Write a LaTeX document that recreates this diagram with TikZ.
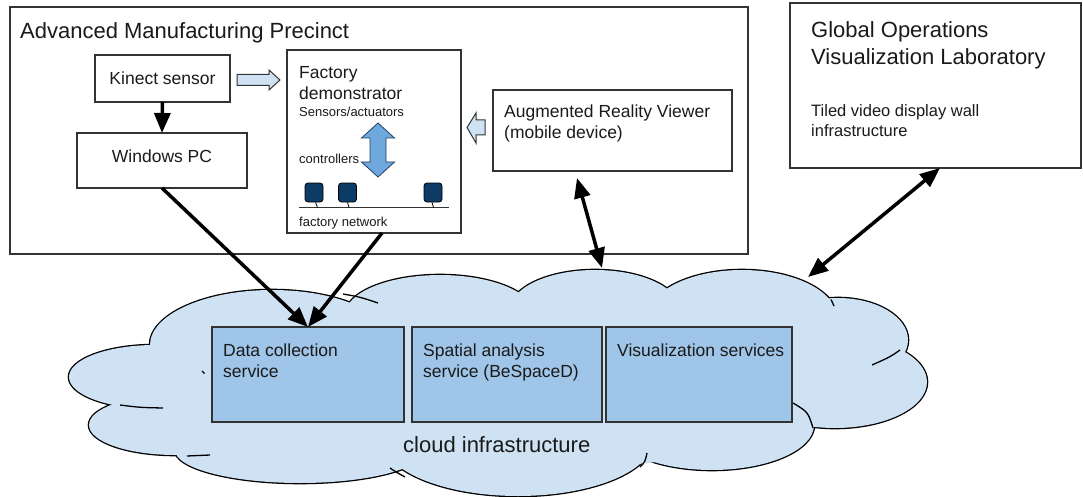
\documentclass[tikz,border=0pt]{standalone}
\usepackage{fontspec}
\setmainfont{Liberation Sans}
\usetikzlibrary{arrows.meta}
\definecolor{cloudfill}{HTML}{CFE2F3}
\definecolor{svcfill}{HTML}{9FC5E8}
\definecolor{boxline}{HTML}{333333}
\definecolor{dblue}{HTML}{6FA8DC}
\definecolor{dblueline}{HTML}{1F3F66}
\definecolor{navy}{HTML}{0C3B66}
\definecolor{txt}{HTML}{1A1A1A}
\tikzset{
  box/.style={draw=boxline, line width=1.2pt, inner sep=0pt, outer sep=0pt, text=txt},
  svc/.style={box, fill=svcfill},
  txtL/.style={font=\fontsize{22}{26}\selectfont, anchor=base west, inner sep=0pt, text=txt},
  txtM/.style={font=\fontsize{17.5}{21}\selectfont, anchor=base west, inner sep=0pt, text=txt},
  txtS/.style={font=\fontsize{13}{15}\selectfont, anchor=base west, inner sep=0pt, text=txt},
  txtG/.style={font=\fontsize{16.5}{20}\selectfont, anchor=base west, inner sep=0pt, text=txt},
  conn/.style={line width=3.5pt, ->},
  conn2/.style={line width=3.5pt, <->},
  >={Triangle[length=20pt,width=16pt]},
  ctrl/.style={draw=black, fill=navy, rounded corners=3pt, minimum width=18pt, minimum height=19pt, line width=0.8pt, inner sep=0pt},
  hollow/.style={draw=boxline, fill=cloudfill, line width=1pt},
  tail/.style={draw=black, line width=1.3pt}
}
\begin{document}
\begin{tikzpicture}[x=1pt,y=-1pt]
\useasboundingbox (0,0) rectangle (1083,497);
\fill[white] (0,0) rectangle (1083,497);

% outer boxes
\node[box, minimum width=738pt, minimum height=247pt] (amp) at (379,130.5) {};
\node[box, minimum width=291pt, minimum height=165pt] (govl) at (935.5,85.5) {};

\node[txtL] (ampt) at (20,39) {Advanced Manufacturing Precinct};
\node[txtL] (govt1) at (811,38) {Global Operations};
\node[txtL] (govt2) at (811,65) {Visualization Laboratory};
\node[txtG] (govt3) at (811,117) {Tiled video display wall};
\node[txtG] (govt4) at (811,137) {infrastructure};

% inner boxes
\node[box, minimum width=135pt, minimum height=47pt, font=\fontsize{17.5}{21}\selectfont] (kinect) at (162.5,78.5) {Kinect sensor};
\node[box, minimum width=170pt, minimum height=55pt, font=\fontsize{17.5}{21}\selectfont] (pc) at (162,160.5) {};
\node[txtM, anchor=base] (pct) at (162,163) {Windows PC};
\node[box, minimum width=174pt, minimum height=183pt] (factory) at (374,141.5) {};
\node[box, minimum width=239pt, minimum height=81pt] (ar) at (612.5,130.5) {};
\node[txtM] (art1) at (504,118) {Augmented Reality Viewer};
\node[txtM] (art2) at (504,139) {(mobile device)};

% factory internals
\node[txtM] (ft1) at (299,79) {Factory};
\node[txtM] (ft2) at (299,100) {demonstrator};
\node[txtS] (ft3) at (299,117) {Sensors/actuators};
\node[txtS] (ft4) at (299,164) {controllers};
\node[txtS] (ft5) at (299,226) {factory network};
\draw[fill=dblue, draw=dblueline, line width=0.8pt]
  (378,123) -- (394.5,138) -- (386,138) -- (386,162) -- (394.5,162) -- (378,177)
  -- (361.5,162) -- (370,162) -- (370,138) -- (361.5,138) -- cycle;
\coordinate (n1) at (299,207);
\coordinate (n2) at (449,207);
\draw[line width=1pt, draw=boxline] (n1) -- (n2);
\node[ctrl] (c1) at (314,192.5) {};
\node[ctrl] (c2) at (347.5,192.5) {};
\node[ctrl] (c3) at (433,192.5) {};
\draw[line width=0.8pt] ([xshift=1.5pt]c1.south) -- +(2,5);
\draw[line width=0.8pt] ([xshift=0pt]c2.south) -- +(1.5,5);
\draw[line width=0.8pt] ([xshift=-1pt]c3.south) -- +(1.5,5);

% hollow arrows
\begin{scope}[shift={(kinect.east)}]
  \draw[hollow] (7,-4) -- (39,-4) -- (39,-8.5) -- (50,1.5) -- (39,11.5) -- (39,7) -- (7,7) -- cycle;
\end{scope}
\begin{scope}[shift={(ar.west)}]
  \draw[hollow] (-8,-10.5) -- (-17,-10.5) -- (-17,-17.5) -- (-26,-3) -- (-17,12.5) -- (-17,4.5) -- (-8,4.5) -- cycle;
\end{scope}

% cloud
\foreach \cx/\cy/\rx/\ry in {155/377/86/32, 175/425/86/30, 300/450/125/33, 518/440/135/56, 712/425/102/45, 835/382/92/46, 838/340/70/42, 742/318/95/48, 595/310/85/40, 440/315/95/40, 272/345/122/55}
  \draw[line width=2.6pt] (\cx,\cy) ellipse [x radius=\rx pt, y radius=\ry pt];
\foreach \cx/\cy/\rx/\ry in {155/377/86/32, 175/425/86/30, 300/450/125/33, 518/440/135/56, 712/425/102/45, 835/382/92/46, 838/340/70/42, 742/318/95/48, 595/310/85/40, 440/315/95/40, 272/345/122/55, 520/385/320/85}
  \fill[cloudfill] (\cx,\cy) ellipse [x radius=\rx pt, y radius=\ry pt];
\draw[tail] (343,294) .. controls (360,297) .. (378,303);
\draw[tail] (120,405) .. controls (140,407.5) .. (163,408);
\draw[tail] (187,456) .. controls (198,456) .. (210,455);
\draw[tail] (390,468) .. controls (396,472) .. (405,477);
\draw[tail] (640,467) .. controls (645,462) .. (647,453);
\draw[tail] (793,403) .. controls (808,412) .. (813,428);
\draw[tail] (900,350) .. controls (890,357) .. (872,365);
\draw[tail] (831,299.5) .. controls (833,302) .. (834,306);
\draw[line width=1.2pt] (202,371) -- (204.5,373.5);

\node[svc, minimum width=192pt, minimum height=95pt] (data) at (308,374.5) {};
\node[svc, minimum width=190pt, minimum height=95pt] (spatial) at (507,374.5) {};
\node[svc, minimum width=186pt, minimum height=95pt] (vis) at (699,374.5) {};
\node[txtM] (dt1) at (223,356) {Data collection};
\node[txtM] (dt2) at (223,377) {service};
\node[txtM] (st1) at (423,356) {Spatial analysis};
\node[txtM] (st2) at (423,377) {service (BeSpaceD)};
\node[txtM] (vt1) at (617,356) {Visualization services};
\node[txtL] (ct) at (403,452) {cloud infrastructure};

% connectors
\coordinate (cAR) at (602,268);
\coordinate (cGO) at (808,277);
\draw[conn] (kinect.south) -- (pc.north);
\draw[conn] (pc.south) -- (data.north);
\draw[conn] ([xshift=8pt]factory.south) -- (data.north);
\draw[conn2] ([xshift=-35.5pt,yshift=-7pt]ar.south) -- (cAR);
\draw[conn2] ([xshift=4.5pt]govl.south) -- (cGO);
\end{tikzpicture}
\end{document}
